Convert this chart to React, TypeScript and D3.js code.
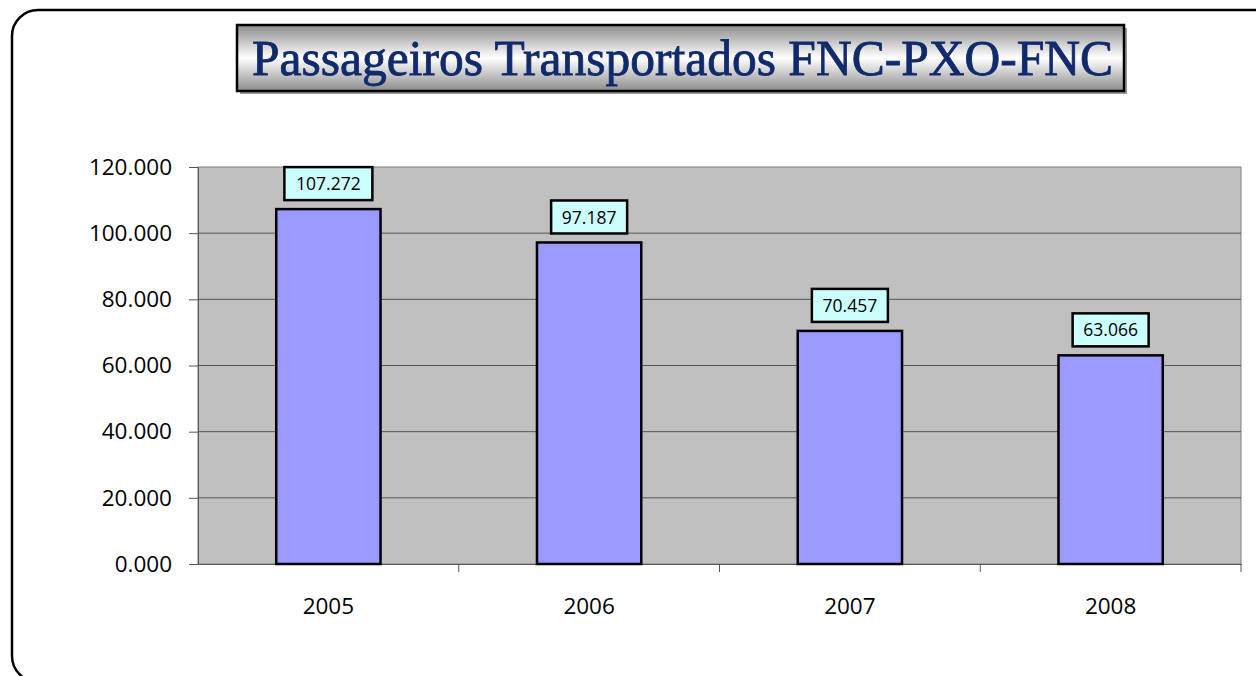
import React, { useEffect, useRef } from 'react';
import * as d3 from 'd3';

const years = ['2005', '2006', '2007', '2008'];
const passengers = [107272, 97187, 70457, 63066];
const yTicks = [0, 20000, 40000, 60000, 80000, 100000, 120000];
const title = 'Passageiros Transportados FNC-PXO-FNC';

const fmt = (v: number) => {
  const k = Math.floor(v / 1000);
  const r = String(v % 1000).padStart(3, '0');
  return `${k}.${r}`;
};

const App = () => {
  const svgRef = useRef<SVGSVGElement>(null);

  useEffect(() => {
    const svg = d3.select(svgRef.current);
    svg.selectAll('*').remove();

    const plot = { left: 198, right: 1241, top: 167, bottom: 564 };

    const defs = svg.append('defs');
    const grad = defs.append('linearGradient')
      .attr('id', 'titleGrad').attr('x1', 0).attr('y1', 0).attr('x2', 0).attr('y2', 1);
    grad.append('stop').attr('offset', '0%').attr('stop-color', '#8c8c8c');
    grad.append('stop').attr('offset', '50%').attr('stop-color', '#ffffff');
    grad.append('stop').attr('offset', '100%').attr('stop-color', '#8c8c8c');

    // outer rounded frame
    svg.append('rect')
      .attr('x', 12).attr('y', 10)
      .attr('width', 1300).attr('height', 672)
      .attr('rx', 26)
      .attr('fill', '#fff').attr('stroke', '#000').attr('stroke-width', 2.5);

    // title box
    svg.append('rect')
      .attr('x', 240).attr('y', 28).attr('width', 887).attr('height', 66)
      .attr('fill', '#9a9a9a');
    svg.append('rect')
      .attr('x', 237).attr('y', 25).attr('width', 887).attr('height', 66)
      .attr('fill', 'url(#titleGrad)').attr('stroke', '#000').attr('stroke-width', 2.5);
    svg.append('text')
      .attr('x', 252).attr('y', 75)
      .attr('textLength', 861).attr('lengthAdjust', 'spacingAndGlyphs')
      .attr('font-family', '"Liberation Serif", "DejaVu Serif", serif')
      .attr('font-size', 50)
      .attr('stroke', '#102a6b').attr('stroke-width', 0.8)
      .attr('fill', '#102a6b')
      .text(title);

    const x = d3.scaleBand<string>()
      .domain(years)
      .range([plot.left, plot.right])
      .paddingInner(0.6).paddingOuter(0.3);

    const y = d3.scaleLinear()
      .domain([0, 120000])
      .range([plot.bottom, plot.top]);

    // plot area
    svg.append('rect')
      .attr('x', plot.left).attr('y', plot.top)
      .attr('width', plot.right - plot.left).attr('height', plot.bottom - plot.top)
      .attr('fill', '#c0c0c0').attr('stroke', '#808080').attr('stroke-width', 1);

    // gridlines
    svg.append('g').selectAll('line')
      .data(yTicks.filter(t => t > 0 && t < 120000))
      .enter().append('line')
      .attr('x1', plot.left).attr('x2', plot.right)
      .attr('y1', d => y(d)).attr('y2', d => y(d))
      .attr('stroke', '#555').attr('stroke-width', 1);

    // y axis
    const yAxis = svg.append('g')
      .attr('transform', `translate(${plot.left},0)`)
      .call(d3.axisLeft(y).tickValues(yTicks).tickFormat(d => fmt(+d)).tickSize(9).tickPadding(17));
    yAxis.select('.domain').attr('stroke', '#555');
    yAxis.selectAll('.tick line').attr('stroke', '#555');
    yAxis.selectAll('.tick text')
      .attr('font-family', '"Open Sans", Lato, sans-serif')
      .attr('font-size', 22.5).attr('fill', '#000');

    // x axis
    const xAxis = svg.append('g')
      .attr('transform', `translate(0,${plot.bottom})`)
      .call(d3.axisBottom(x).tickSize(0).tickPadding(34));
    xAxis.select('.domain').attr('stroke', '#555');
    xAxis.selectAll('.tick text')
      .attr('font-family', '"Open Sans", Lato, sans-serif')
      .attr('font-size', 22.5).attr('fill', '#000');
    const step = x.step();
    svg.append('g').selectAll('line')
      .data(years.slice(1).concat(['end']))
      .enter().append('line')
      .attr('x1', (d, i) => plot.left + step * (i + 1))
      .attr('x2', (d, i) => plot.left + step * (i + 1))
      .attr('y1', plot.bottom).attr('y2', plot.bottom + 8)
      .attr('stroke', '#555');

    // bars
    svg.append('g').selectAll('rect')
      .data(passengers)
      .enter().append('rect')
      .attr('x', (d, i) => x(years[i])!)
      .attr('y', d => y(d))
      .attr('width', x.bandwidth())
      .attr('height', d => plot.bottom - y(d))
      .attr('fill', '#9999ff').attr('stroke', '#000').attr('stroke-width', 2.5);

    // data labels
    const lbl = svg.append('g').selectAll('g')
      .data(passengers)
      .enter().append('g')
      .attr('transform', (d, i) => `translate(${x(years[i])! + x.bandwidth() / 2},${y(d) - 25})`);
    lbl.append('rect')
      .attr('x', d => (d >= 100000 ? -44 : -38)).attr('y', -17)
      .attr('width', d => (d >= 100000 ? 88 : 76)).attr('height', 33)
      .attr('fill', '#ccffff').attr('stroke', '#000').attr('stroke-width', 2.5);
    lbl.append('text')
      .attr('text-anchor', 'middle').attr('dy', '0.35em')
      .attr('font-family', '"Open Sans", Lato, sans-serif')
      .attr('font-size', 17.5).attr('fill', '#000')
      .text(d => fmt(d));
  }, []);

  return (
    <svg ref={svgRef} width={1256} height={676}
      style={{ position: 'absolute', left: 0, top: 0, display: 'block' }} />
  );
};

export default App;
